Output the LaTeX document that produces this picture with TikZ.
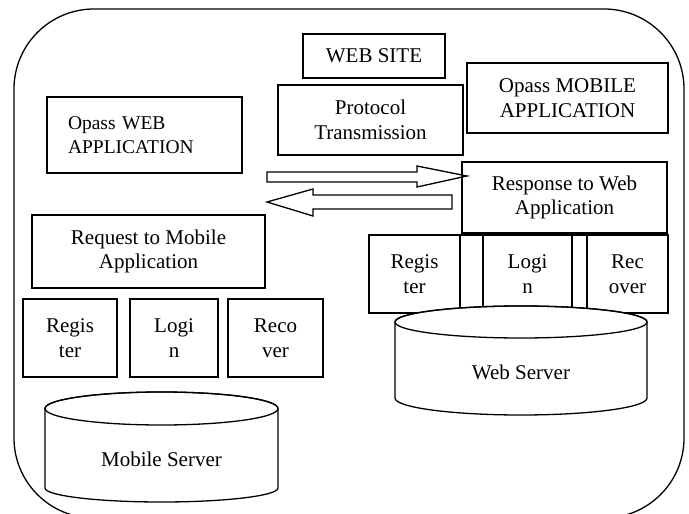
\documentclass[tikz,border=0pt]{standalone}
\usepackage{fontspec}
\setmainfont{Liberation Serif}
\begin{document}
\begin{tikzpicture}[x=1pt,y=-1pt,
  every path/.style={line width=1.3pt},
  box/.style={draw, fill=white, line width=1.3pt, inner sep=0pt, align=center,
    font=\fontsize{21}{24.5}\selectfont},
  lbl/.style={inner sep=0pt, align=center, font=\fontsize{21}{24.5}\selectfont}]
\useasboundingbox (0,0) rectangle (689,514);
% outer frame
\draw[rounded corners=80pt] (14,9) rectangle (684,518);
% top boxes
\node[box, minimum width=142pt, minimum height=44pt] (website) at (374,56) {WEB SITE};
\node[box, minimum width=185pt, minimum height=70pt] (protocol) at (370.5,120) {Protocol\\Transmission};
\node[box, minimum width=201pt, minimum height=70pt] (mobileapp) at (567.5,98) {Opass MOBILE\\APPLICATION};
\node[box, minimum width=205pt, minimum height=71pt] (response) at (564.5,197.5) {Response to Web\\Application};
\node[box, text width=153pt, inner xsep=21pt, minimum height=76pt, align=left,
  font=\fontsize{19.5}{23.3}\selectfont] (webapp) at (144.5,135) {Opass WEB\\APPLICATION};
\node[box, minimum width=233pt, minimum height=73pt] (request) at (148.5,251.5) {Request to Mobile\\Application};
% block arrows
\coordinate (rtail) at (267,177);
\coordinate (rtip) at (467,176);
\coordinate (ltip) at (267,202);
\coordinate (ltail) at (452,202);
\draw (267,172) -- (417,172) -- (417,166) -- (rtip) -- (417,187) -- (417,182) -- (267,182) -- cycle;
\draw (ltip) -- (313,189) -- (313,195) -- (452,195) -- (452,209) -- (313,209) -- (313,216) -- cycle;
% left row
\node[box, minimum width=94pt, minimum height=78pt] (lreg) at (70,338) {Regis\\ter};
\node[box, minimum width=88pt, minimum height=78pt] (llog) at (174,338) {Logi\\n};
\node[box, minimum width=95pt, minimum height=78pt] (lrec) at (275.5,338) {Reco\\ver};
% right row
\draw (369,235) rectangle (668,313);
\node[box, minimum width=91pt, minimum height=78pt] (rreg) at (414.5,274) {Regis\\ter};
\node[box, minimum width=89pt, minimum height=78pt] (rlog) at (527.5,274) {Logi\\n};
\node[box, minimum width=81pt, minimum height=78pt] (rrec) at (627.5,274) {Rec\\over};
% mobile server cylinder
\draw[fill=white] (45,408.5) -- (45,488)
  .. controls (45,495.7) and (97.2,502) .. (161.5,502)
  .. controls (225.8,502) and (278,495.7) .. (278,488) -- (278,408.5)
  .. controls (278,399.4) and (225.8,392) .. (161.5,392)
  .. controls (97.2,392) and (45,399.4) .. (45,408.5) -- cycle;
\draw (161.5,408.5) ellipse [x radius=116.5, y radius=16.5];
\node[lbl] (mobserver) at (161.5,459) {Mobile Server};
% web server cylinder
\draw[fill=white] (395,322) -- (395,398)
  .. controls (395,407.4) and (451.4,415) .. (521,415)
  .. controls (590.6,415) and (647,407.4) .. (647,398) -- (647,322)
  .. controls (647,313.2) and (590.6,306) .. (521,306)
  .. controls (451.4,306) and (395,313.2) .. (395,322) -- cycle;
\draw (521,322) ellipse [x radius=126, y radius=16];
\node[lbl] (webserver) at (521,372) {Web Server};
\end{tikzpicture}
\end{document}
